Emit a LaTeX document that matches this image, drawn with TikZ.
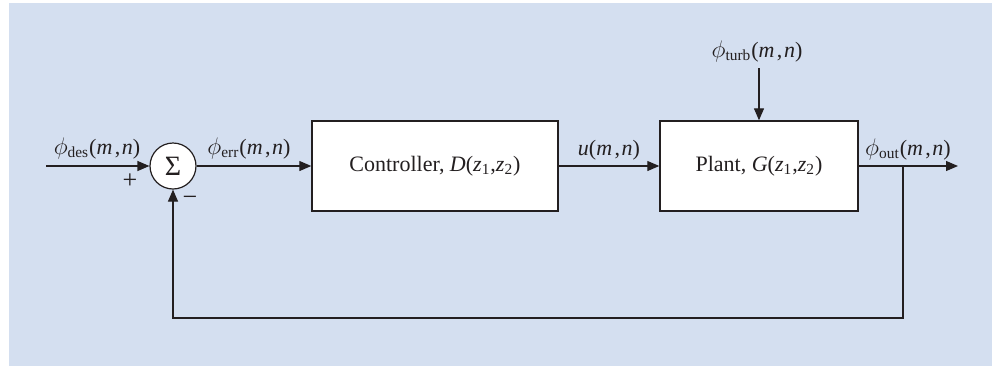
\documentclass[tikz,border=0pt]{standalone}
\usepackage{fontspec}
\setmainfont{Liberation Serif}
\usetikzlibrary{arrows.meta}
\definecolor{bgblue}{RGB}{212,223,240}
\definecolor{ink}{RGB}{35,31,32}
\newcommand\mnarg{(\textit{m\kern1.2pt},\kern0.8pt\textit{n})}
\newcommand\zz{(\textit{z}\textsubscript{1},\textit{z}\textsubscript{2})}
\newcommand\bigphi{{\fontsize{13}{15}\selectfont$\phi$}}
\begin{document}
\begin{tikzpicture}[x=0.5pt,y=-0.5pt,
  font=\fontsize{11}{13}\selectfont,
  line/.style={draw=ink, line width=0.6pt},
  arr/.style={line, -{Triangle[length=6pt,width=5pt]}},
  blockbox/.style={draw=ink, line width=0.7pt, fill=white, minimum width=123pt,
    minimum height=45pt, inner sep=0pt, text=ink},
  lab/.style={text=ink, inner sep=0pt, anchor=base}]
\useasboundingbox (0,0) rectangle (992,366);
\fill[bgblue] (9,3) rectangle (992,366);
\coordinate (in) at (46,166);
\node[circle, draw=ink, line width=0.6pt, fill=white, minimum size=23pt, inner sep=0pt, text=ink] (sum) at (173,166) {\fontsize{14}{16}\selectfont Σ};
\node[blockbox] (ctrl) at (435,166) {Controller, \textit{D}\zz};
\node[blockbox, minimum width=99pt] (plant) at (759,166) {Plant, \textit{G}\zz};
\coordinate (turb) at (759,68);
\coordinate (out) at (958,166);
\coordinate (br) at (903,166);
\coordinate (fbr) at (903,318);
\draw[arr] (in) -- (sum.west);
\draw[arr] (sum.east) -- (ctrl.west);
\draw[arr] (ctrl.east) -- (plant.west);
\draw[arr] (turb) -- (plant.north);
\draw[arr] (plant.east) -- (out);
\draw[arr] (br) -- (fbr) -| (sum.south);
\node[lab] (ldes) at (97,154) {\bigphi\textsubscript{des}\mnarg};
\node[lab] (lerr) at (249,154) {\bigphi\textsubscript{err}\mnarg};
\node[lab] (lu) at (609,155) {\textit{u}\mnarg};
\node[lab] (lout) at (908,155) {\bigphi\textsubscript{out}\mnarg};
\node[lab] (lturb) at (757,57) {\bigphi\textsubscript{turb}\mnarg};
\node[text=ink, inner sep=0pt, font=\fontsize{13}{15}\selectfont] (plus) at (130,181) {+};
\node[text=ink, inner sep=0pt, font=\fontsize{13}{15}\selectfont] (minus) at (190,201) {−};
\end{tikzpicture}
\end{document}
